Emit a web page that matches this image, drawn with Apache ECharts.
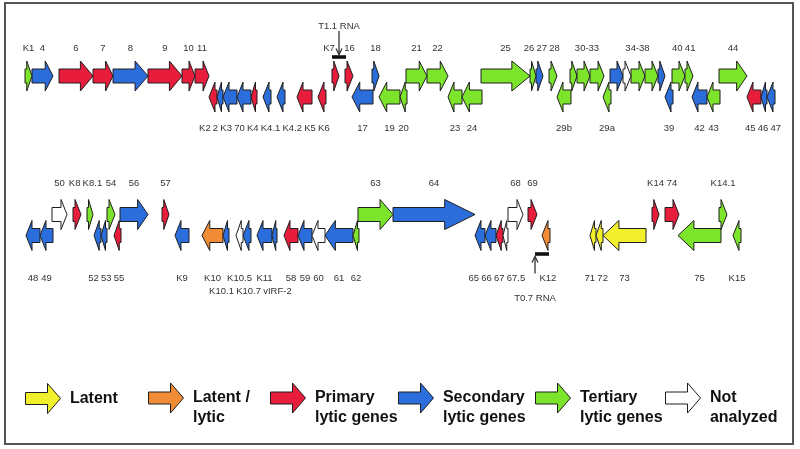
<!DOCTYPE html>
<html><head><meta charset="utf-8">
<script src="https://cdn.jsdelivr.net/npm/echarts@6/dist/echarts.min.js"></script>
<style>html,body{margin:0;padding:0;background:#fff}#c{width:800px;height:449px}</style>
</head><body><div id="c"></div>
<script>
// ---------------- DATA ----------------
const classNames = ['Latent', 'Latent / lytic', 'Primary lytic genes', 'Secondary lytic genes', 'Tertiary lytic genes', 'Not analyzed'];
const classKeys  = ['latent', 'latentLytic', 'primary', 'secondary', 'tertiary', 'na'];

// [gene, start, end, strand, class]  (map units along each row)
const row1Genes = [
  ['K1', 25, 32, '+', 'tertiary'], ['4', 32, 53, '+', 'secondary'], ['6', 59, 93, '+', 'primary'],
  ['7', 93, 113, '+', 'primary'], ['8', 113, 148, '+', 'secondary'], ['9', 148, 182, '+', 'primary'],
  ['10', 182, 195, '+', 'primary'], ['11', 195, 209, '+', 'primary'],
  ['K2', 209, 217, '-', 'primary'], ['2', 217, 223, '-', 'secondary'], ['K3', 223, 237, '-', 'secondary'],
  ['70', 237, 251, '-', 'secondary'], ['K4', 251, 257, '-', 'primary'], ['K4.1', 263, 271, '-', 'secondary'],
  ['K4.2', 277, 285, '-', 'secondary'], ['K5', 297, 312, '-', 'primary'], ['K6', 318, 326, '-', 'primary'],
  ['K7', 332, 339, '+', 'primary'], ['16', 345, 353, '+', 'primary'], ['17', 352, 373, '-', 'secondary'],
  ['18', 372, 379, '+', 'secondary'], ['19', 379, 400, '-', 'tertiary'], ['20', 400, 407, '-', 'tertiary'],
  ['21', 406, 427, '+', 'tertiary'], ['22', 427, 448, '+', 'tertiary'], ['23', 448, 462, '-', 'tertiary'],
  ['24', 462, 482, '-', 'tertiary'], ['25', 481, 530, '+', 'tertiary'], ['26', 530, 536, '+', 'tertiary'],
  ['27', 536, 543, '+', 'secondary'], ['28', 549, 557, '+', 'tertiary'], ['29b', 557, 571, '-', 'tertiary'],
  ['30', 570, 577, '+', 'tertiary'], ['31', 577, 590, '+', 'tertiary'], ['32/33', 590, 604, '+', 'tertiary'],
  ['29a', 603, 611, '-', 'tertiary'], ['34', 610, 623, '+', 'secondary'], ['35', 623, 631, '+', 'na'],
  ['36', 631, 645, '+', 'tertiary'], ['37', 645, 658, '+', 'tertiary'], ['38', 658, 665, '+', 'secondary'],
  ['39', 665, 673, '-', 'secondary'], ['40', 672, 685, '+', 'tertiary'], ['41', 685, 693, '+', 'tertiary'],
  ['42', 692, 707, '-', 'secondary'], ['43', 707, 720, '-', 'tertiary'], ['44', 719, 747, '+', 'tertiary'],
  ['45', 747, 761, '-', 'primary'], ['46', 761, 767, '-', 'secondary'], ['47', 767, 775, '-', 'secondary']
];
const row2Genes = [
  ['48', 26, 40, '-', 'secondary'], ['49', 40, 53, '-', 'secondary'], ['50', 52, 67, '+', 'na'],
  ['K8', 73, 81, '+', 'primary'], ['K8.1', 87, 93, '+', 'tertiary'], ['52', 94, 101, '-', 'secondary'],
  ['53', 101, 107, '-', 'secondary'], ['54', 107, 115, '+', 'tertiary'], ['55', 114, 121, '-', 'primary'],
  ['56', 120, 148, '+', 'secondary'], ['57', 162, 169, '+', 'primary'], ['K9', 175, 189, '-', 'secondary'],
  ['K10', 202, 223, '-', 'latentLytic'], ['K10.1', 223, 229, '-', 'secondary'], ['K10.5', 236, 243, '-', 'na'],
  ['K10.7', 243, 251, '-', 'secondary'], ['K11', 257, 272, '-', 'secondary'], ['vIRF-2', 272, 277, '-', 'secondary'],
  ['58', 284, 298, '-', 'primary'], ['59', 298, 312, '-', 'secondary'], ['60', 312, 325, '-', 'na'],
  ['61', 325, 353, '-', 'secondary'], ['62', 353, 359, '-', 'tertiary'], ['63', 358, 393, '+', 'tertiary'],
  ['64', 393, 475, '+', 'secondary'], ['65', 475, 485, '-', 'secondary'], ['66', 485, 496, '-', 'secondary'],
  ['67', 496, 503, '-', 'primary'], ['67.5', 503, 508, '-', 'na'], ['68', 508, 523, '+', 'na'],
  ['69', 528, 537, '+', 'primary'], ['K12', 542, 550, '-', 'latentLytic'], ['71', 590, 596, '-', 'latent'],
  ['72', 596, 603, '-', 'latent'], ['73', 603, 646, '-', 'latent'], ['K14', 652, 659, '+', 'primary'],
  ['74', 665, 679, '+', 'primary'], ['75', 678, 721, '-', 'tertiary'], ['K14.1', 719, 727, '+', 'tertiary'],
  ['K15', 733, 741, '-', 'tertiary']
];
const labelGroups = [['30-33', ['30', '31', '32/33']], ['34-38', ['34', '35', '36', '37', '38']]];
const secondLineLabels = ['K10.1', 'K10.7', 'vIRF-2'];
// [name, row, start, end, pointer, side]
const transcripts = [['T1.1 RNA', 0, 332, 346, 339, 'above'], ['T0.7 RNA', 1, 535, 549, 535, 'below']];
const legendLines = {
  'Latent': ['Latent'], 'Latent / lytic': ['Latent /', 'lytic'], 'Primary lytic genes': ['Primary', 'lytic genes'],
  'Secondary lytic genes': ['Secondary', 'lytic genes'], 'Tertiary lytic genes': ['Tertiary', 'lytic genes'],
  'Not analyzed': ['Not', 'analyzed']
};

// ---------------- STYLE / LAYOUT ----------------
const COLORS = { latent: '#f2f02c', latentLytic: '#f08b36', primary: '#e81d3c', secondary: '#2c6ddc', tertiary: '#7de42c', na: '#ffffff' };
const OUTLINE = '#1e1e1e';
const FONT_FAMILY = '"Liberation Sans", Arial, sans-serif';
const LABEL_FONT = '9.5px ' + FONT_FAMILY;
const rows = [row1Genes, row2Genes];
const gridTops = [65.5, 204];
const upperLabelOffset = [-28, -31.5];
const lowerLabelOffset = [31, 42.5];
const tierStep = 13;

const ctx = document.createElement('canvas').getContext('2d');
ctx.font = LABEL_FONT;
const textW = t => ctx.measureText(t).width;

function spread(items, gap) {
  items.sort((a, b) => a.c - b.c);
  const clusters = [];
  for (const it of items) {
    const wt = it.weight || 1;
    clusters.push({ items: [it], w: it.w, sum: (it.c - it.w / 2) * wt, wsum: wt, left: it.c - it.w / 2 });
    while (clusters.length > 1) {
      const b = clusters[clusters.length - 1], a = clusters[clusters.length - 2];
      if (a.left + a.w + gap > b.left) {
        const off = a.w + gap;
        a.sum = a.sum + b.sum - off * b.wsum;
        a.wsum += b.wsum;
        a.items = a.items.concat(b.items);
        a.w = a.w + gap + b.w;
        a.left = a.sum / a.wsum;
        clusters.pop();
      } else break;
    }
  }
  for (const cl of clusters) {
    let x = cl.left;
    for (const it of cl.items) { it.x = x + it.w / 2; x += it.w + gap; }
  }
}

function labelItems(r) {
  const genes = rows[r];
  const items = [];
  const grouped = {};
  labelGroups.forEach(g => g[1].forEach(n => grouped[n] = g));
  const done = {};
  genes.forEach(g => {
    const lane = g[3] === '+' ? 0 : 1;
    if (grouped[g[0]]) {
      const grp = grouped[g[0]];
      if (done[grp[0]]) return;
      done[grp[0]] = true;
      const mem = genes.filter(x => grp[1].includes(x[0]));
      const s = Math.min(...mem.map(x => x[1])), e = Math.max(...mem.map(x => x[2]));
      items.push({ text: grp[0], c: (s + e) / 2, lane, tier: 0, w: textW(grp[0]) });
    } else {
      items.push({ text: g[0], c: (g[1] + g[2]) / 2, lane, tier: secondLineLabels.includes(g[0]) ? 1 : 0, w: textW(g[0]) });
    }
  });
  transcripts.filter(t => t[1] === r).forEach(t => {
    items.push({ text: '', c: t[4], lane: t[5] === 'above' ? 0 : 1, tier: 0, w: 5, weight: 10, obstacle: true });
  });
  const keys = {};
  items.forEach(it => { const k = it.lane + '_' + it.tier; (keys[k] = keys[k] || []).push(it); });
  Object.values(keys).forEach(list => spread(list, 2.2));
  return items.filter(it => !it.obstacle);
}

function renderGene(params, api) {
  const s = api.value(0), e = api.value(1), lane = api.value(2);
  const p0 = api.coord([s, lane]), p1 = api.coord([e, lane]);
  const x0 = p0[0], x1 = p1[0], cy = p0[1];
  const len = x1 - x0;
  const head = Math.max(len * 0.37, Math.min(len * 0.75, 6));
  const H = 15, S = 7;
  let pts;
  if (lane === 0) pts = [[x0, cy - S], [x1 - head, cy - S], [x1 - head, cy - H], [x1, cy], [x1 - head, cy + H], [x1 - head, cy + S], [x0, cy + S]];
  else pts = [[x1, cy - S], [x0 + head, cy - S], [x0 + head, cy - H], [x0, cy], [x0 + head, cy + H], [x0 + head, cy + S], [x1, cy + S]];
  return { type: 'polygon', shape: { points: pts }, style: { fill: api.visual('color'), stroke: OUTLINE, lineWidth: 1 } };
}

const series = [];
rows.forEach((genes, r) => {
  classKeys.forEach((k, ci) => {
    series.push({
      type: 'custom', name: classNames[ci], xAxisIndex: r, yAxisIndex: r,
      itemStyle: { color: COLORS[k], borderColor: OUTLINE, borderWidth: 1 },
      renderItem: renderGene,
      data: genes.filter(g => g[4] === k).map(g => ({ name: g[0], value: [g[1], g[2], g[3] === '+' ? 0 : 1] })),
      silent: true, z: 2
    });
  });
  const labs = labelItems(r);
  series.push({
    type: 'custom', name: 'labels' + r, xAxisIndex: r, yAxisIndex: r, silent: true, z: 3,
    data: labs.map(l => ({ name: l.text, value: [l.x, l.lane, l.tier] })),
    renderItem: (params, api) => {
      const lane = api.value(1), tier = api.value(2);
      const x = api.coord([api.value(0), lane])[0];
      const cy = api.coord([0, lane])[1];
      const y = lane === 0 ? cy + upperLabelOffset[r] : cy + lowerLabelOffset[r] + tier * tierStep;
      return { type: 'text', x, y, style: { text: labs[params.dataIndex].text, fill: '#333', font: LABEL_FONT, align: 'center', verticalAlign: 'middle' } };
    }
  });
  const tr = transcripts.filter(t => t[1] === r);
  series.push({
    type: 'custom', name: 'transcripts' + r, xAxisIndex: r, yAxisIndex: r, silent: true, z: 4,
    data: tr.map(t => ({ name: t[0], value: [t[2], t[3], t[4], t[5] === 'above' ? 0 : 1] })),
    renderItem: (params, api) => {
      const t = tr[params.dataIndex];
      const lane = api.value(3);
      const xs = api.coord([api.value(0), lane])[0], xe = api.coord([api.value(1), lane])[0];
      const xp = api.coord([api.value(2), lane])[0];
      const cy = api.coord([0, lane])[1];
      let barY, lineFrom, textY, dir;
      if (lane === 0) { barY = cy - 19; lineFrom = cy - 45; textY = cy - 50; dir = 1; }
      else { barY = cy + 18.5; lineFrom = cy + 38; textY = cy + 62.5; dir = -1; }
      const tipY = barY - dir * 2.5;
      return {
        type: 'group', children: [
          { type: 'rect', shape: { x: xs, y: barY - 1.8, width: xe - xs, height: 3.6 }, style: { fill: '#111' } },
          { type: 'line', shape: { x1: xp, y1: lineFrom, x2: xp, y2: tipY }, style: { stroke: '#333', lineWidth: 1.3 } },
          { type: 'polyline', shape: { points: [[xp - 3, tipY - dir * 6], [xp, tipY], [xp + 3, tipY - dir * 6]] }, style: { stroke: '#333', lineWidth: 1.3, fill: null } },
          { type: 'text', x: xp, y: textY, style: { text: t[0], fill: '#333', font: LABEL_FONT, align: 'center', verticalAlign: 'middle' } }
        ]
      };
    }
  });
});

const ARROW = 'path://M0,9 L22,9 L22,0 L35,15 L22,30 L22,21 L0,21 Z';
const legendLeft = [25, 148, 270, 398, 535, 665];
const legendCentreY = 398;
const legends = classNames.map((n, i) => {
  const lines = legendLines[n];
  return {
    data: [n], left: legendLeft[i], top: lines.length > 1 ? legendCentreY - 30 : legendCentreY - 15,
    orient: 'horizontal', padding: 0, icon: ARROW, itemWidth: 35, itemHeight: 30, selectedMode: false,
    itemStyle: { borderColor: OUTLINE, borderWidth: 1 },
    textStyle: { fontSize: 16, fontWeight: 'bold', fontFamily: FONT_FAMILY, color: '#111', lineHeight: 20 },
    formatter: () => lines.length > 1 ? '\n' + lines.map(l => ' ' + l).join('\n') : ' ' + lines[0]
  };
});

const chart = echarts.init(document.getElementById('c'), null, { renderer: 'canvas' });
chart.setOption({
  backgroundColor: '#ffffff',
  animation: false,
  grid: gridTops.map(t => ({ left: 0, right: 0, top: t, height: 42 })),
  xAxis: [0, 1].map(i => ({ gridIndex: i, type: 'value', min: 0, max: 800, show: false })),
  yAxis: [0, 1].map(i => ({ gridIndex: i, type: 'category', data: ['+', '-'], inverse: true, show: false })),
  legend: legends,
  graphic: [{ type: 'rect', shape: { x: 5, y: 3, width: 788, height: 441 }, style: { fill: 'none', stroke: '#555', lineWidth: 2 }, z: 100, silent: true }],
  series
});
</script></body></html>
